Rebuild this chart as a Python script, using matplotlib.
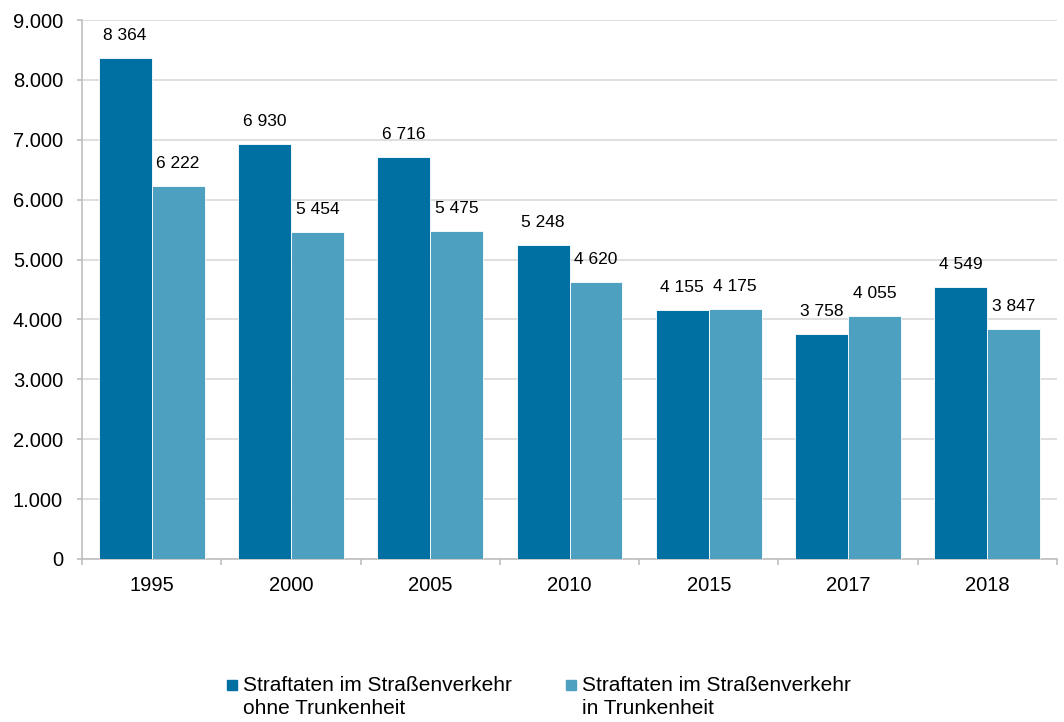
import numpy as np
import matplotlib.pyplot as plt
from matplotlib.ticker import FuncFormatter
from matplotlib.patches import Rectangle

plt.rcParams['font.family'] = ['Liberation Sans', 'DejaVu Sans']

jahre = ['1995', '2000', '2005', '2010', '2015', '2017', '2018']
ohne = [8364, 6930, 6716, 5248, 4155, 3758, 4549]
mit = [6222, 5454, 5475, 4620, 4175, 4055, 3847]
namen = ['Straftaten im Straßenverkehr\nohne Trunkenheit',
         'Straftaten im Straßenverkehr\nin Trunkenheit']

dunkel = '#0070a2'
hell = '#4ea0c1'

W, H = 1064, 722
fig = plt.figure(figsize=(W/100, H/100), dpi=100)
ax = fig.add_axes([82/W, 1 - 559/H, (1057-82)/W, (559-20)/H])

x = np.arange(len(jahre))
b = 0.38
r1 = ax.bar(x - b/2, ohne, b, color=dunkel, edgecolor='white', linewidth=0.6, zorder=3)
r2 = ax.bar(x + b/2, mit, b, color=hell, edgecolor='white', linewidth=0.6, zorder=3)

def fmt(v):
    return f'{v:,}'.replace(',', ' ')

for rects, vals in [(r1, ohne), (r2, mit)]:
    for r, v in zip(rects, vals):
        ax.text(r.get_x() + r.get_width()/2, v + 250, fmt(v), ha='center', va='bottom', fontsize=12.5)

ax.set_xlim(-0.5, len(jahre) - 0.5)
ax.set_ylim(0, 9000)
ax.set_yticks(np.arange(0, 9001, 1000))
ax.yaxis.set_major_formatter(FuncFormatter(lambda v, p: f'{int(v):,}'.replace(',', '.')))
ax.grid(axis='y', color='#d9d9d9', linewidth=1.2, zorder=0)

ax.set_xticks(x)
ax.set_xticklabels(jahre)
ax.set_xticks(np.arange(-0.5, len(jahre), 1), minor=True)
ax.tick_params(axis='x', which='major', length=0, pad=12, labelsize=14.5)
ax.tick_params(axis='x', which='minor', length=4, color='#bfbfbf', width=1.2)
ax.tick_params(axis='y', length=3.6, color='#bfbfbf', width=1.2, labelsize=14.5, pad=10)

for s in ['top', 'right']:
    ax.spines[s].set_visible(False)
for s in ['left', 'bottom']:
    ax.spines[s].set_color('#bfbfbf')
    ax.spines[s].set_linewidth(1.2)

# legende von hand, marker auf hoehe der ersten zeile
for px, farbe, name in [(227, dunkel, namen[0]), (566, hell, namen[1])]:
    fig.add_artist(Rectangle((px/W, 1 - 690/H), 10/W, 10/H, color=farbe, transform=fig.transFigure))
    fig.text((px + 16)/W, 1 - 676/H, name, fontsize=15, va='top', ha='left', linespacing=1.3)

fig.savefig('out.png', dpi=100)
